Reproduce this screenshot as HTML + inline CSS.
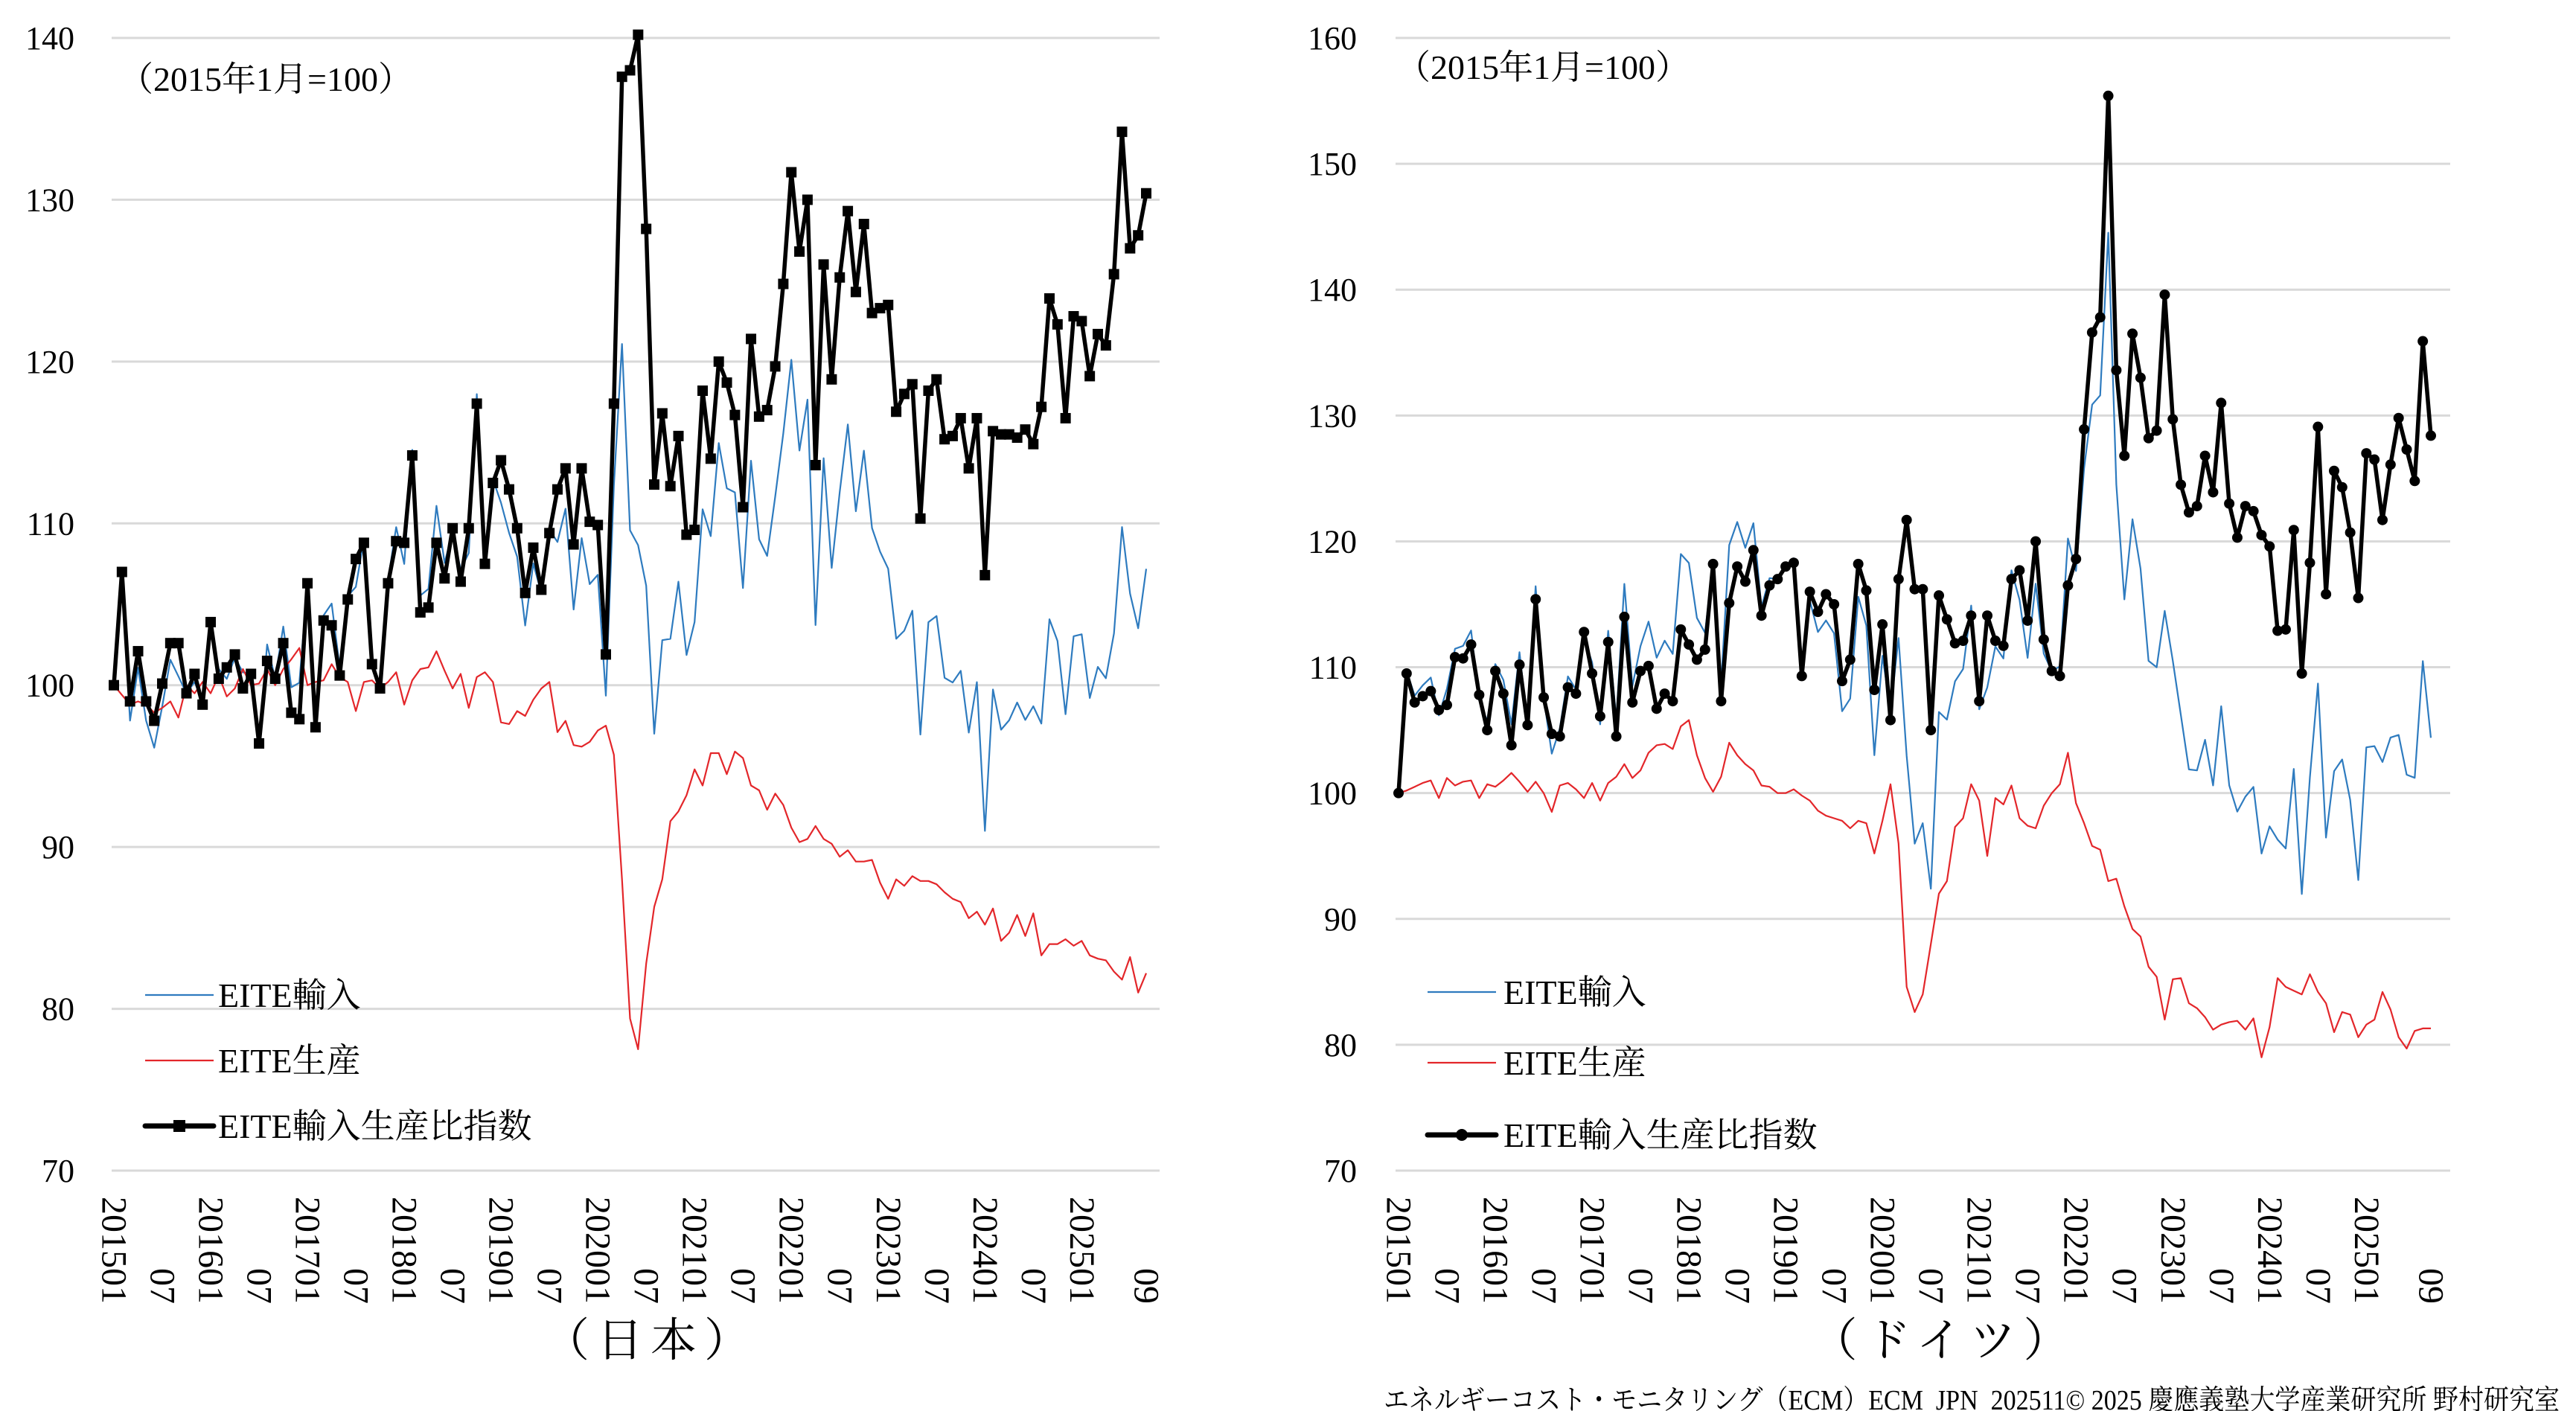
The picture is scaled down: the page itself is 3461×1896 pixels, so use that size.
<!DOCTYPE html>
<html><head><meta charset="utf-8">
<style>
html,body{margin:0;padding:0;background:#fff;}
svg{display:block;}
svg text{font-family:"Liberation Serif","Times New Roman","DejaVu Serif","Noto Serif CJK SC","Noto Sans CJK JP",serif;fill:#000;}
</style></head>
<body>
<svg id="s" width="3461" height="1896" viewBox="0 0 3461 1896" xmlns="http://www.w3.org/2000/svg">
<text x="874" y="1822" font-size="62" text-anchor="middle" letter-spacing="10">（日本）</text>
<text x="2612" y="1822" font-size="62" text-anchor="middle" letter-spacing="10">（ドイツ）</text>
<text x="1859" y="1894" font-size="38" textLength="1580" lengthAdjust="spacingAndGlyphs">エネルギーコスト・モニタリング（ECM）ECM_JPN_202511© 2025 慶應義塾大学産業研究所 野村研究室</text>
<text x="160" y="122" font-size="46">（2015年1月=100）</text>
<text x="1876" y="106" font-size="46">（2015年1月=100）</text>
</svg>
<script>
var NS="http://www.w3.org/2000/svg",S=document.getElementById('s');
function el(t,a,txt){var e=document.createElementNS(NS,t);for(var k in a)e.setAttribute(k,a[k]);if(txt!=null)e.textContent=txt;S.appendChild(e);return e;}
var jr=[100,107,99,102.1,99,97.8,100.1,102.6,102.6,99.5,100.7,98.8,103.9,100.4,101.1,101.9,99.8,100.7,96.4,101.5,100.4,102.6,98.3,97.9,106.3,97.4,104,103.7,100.6,105.3,107.8,108.8,101.3,99.8,106.3,108.9,108.8,114.2,104.5,104.8,108.8,106.6,109.7,106.4,109.7,117.4,107.5,112.5,113.9,112.1,109.7,105.7,108.5,105.9,109.4,112.1,113.4,108.7,113.4,110.1,109.9,101.9,117.4,137.6,138,140.2,128.2,112.4,116.8,112.3,115.4,109.3,109.6,118.2,114,120,118.7,116.7,111,121.4,116.6,117,119.7,124.8,131.7,126.8,130,113.6,126,118.9,125.2,129.3,124.3,128.5,123,123.3,123.5,116.9,118,118.6,110.3,118.2,118.9,115.2,115.4,116.5,113.4,116.5,106.8,115.7,115.5,115.5,115.3,115.8,114.9,117.2,123.9,122.3,116.5,122.8,122.5,119.1,121.7,121,125.4,134.2,127,127.8,130.4];
var jp=[100,99.4,98.8,99,98.8,98.3,98.6,99,98,100,99.5,100.2,99.5,100.6,99.3,99.8,101,100,100.1,101,100,101,101.6,102.3,100,100.2,100.3,101.3,100.5,100.2,98.4,100.2,100.3,99.8,100.2,100.8,98.8,100.3,101,101.1,102.1,100.9,99.8,100.7,98.6,100.5,100.8,100.2,97.7,97.6,98.4,98.1,99.1,99.8,100.2,97.1,97.8,96.3,96.2,96.5,97.2,97.5,95.7,88,79.4,77.5,82.8,86.3,88,91.6,92.2,93.2,94.8,93.8,95.8,95.8,94.5,95.9,95.5,93.8,93.5,92.3,93.3,92.6,91.2,90.3,90.5,91.3,90.5,90.2,89.4,89.8,89.1,89.1,89.2,87.8,86.8,88,87.6,88.2,87.9,87.9,87.7,87.2,86.8,86.6,85.6,86,85.2,86.2,84.2,84.7,85.8,84.5,85.9,83.3,84,84,84.3,83.9,84.2,83.3,83.1,83,82.3,81.8,83.2,81,82.2];
var gr=[100,109.5,107.2,107.7,108.1,106.6,107,110.8,110.7,111.8,107.8,105,109.7,107.9,103.8,110.2,105.4,115.4,107.6,104.7,104.5,108.4,107.9,112.8,109.5,106.1,112,104.5,114,107.2,109.7,110.1,106.7,107.9,107.3,113,111.8,110.6,111.4,118.2,107.3,115.1,118,116.8,119.3,114.1,116.5,117,118,118.3,109.3,116,114.4,115.8,115,108.9,110.6,118.2,116.1,108.2,113.4,105.8,117,121.7,116.2,116.2,105,115.7,113.8,111.9,112.1,114.1,107.3,114.1,112.1,111.7,117,117.7,113.7,120,112.2,109.7,109.3,116.5,118.6,128.9,136.6,137.8,155.4,133.6,126.8,136.5,133,128.2,128.8,139.6,129.7,124.5,122.3,122.8,126.8,123.9,131,123,120.3,122.8,122.4,120.5,119.6,112.9,113,120.9,109.5,118.3,129.1,115.8,125.6,124.3,120.7,115.5,127,126.5,121.7,126.1,129.8,127.3,124.8,135.9,128.4];
var gp=[100,100.2,100.5,100.8,101,99.6,101.2,100.6,100.9,101,99.6,100.7,100.5,101,101.6,100.9,100.1,100.9,100,98.5,100.6,100.8,100.3,99.6,100.8,99.4,100.8,101.3,102.3,101.2,101.8,103.2,103.8,103.9,103.5,105.3,105.8,103,101.2,100.1,101.3,104,103,102.3,101.8,100.6,100.5,100,100,100.3,99.8,99.4,98.6,98.2,98,97.8,97.2,97.8,97.6,95.2,97.8,100.7,96,84.6,82.6,84,88,92,93,97.3,98,100.7,99.4,95,99.6,99.1,100.6,98,97.4,97.2,99,100,100.7,103.2,99.2,97.6,95.8,95.5,93,93.2,91,89.2,88.6,86.2,85.4,82,85.2,85.3,83.3,82.9,82.2,81.2,81.6,81.8,81.9,81.2,82.1,79,81.4,85.3,84.6,84.3,84,85.6,84.2,83.3,81,82.6,82.4,80.6,81.6,82,84.2,82.8,80.6,79.7,81.1,81.3];
while(gp.length<129)gp.push(81.3);
function chart(o){
  var X=function(i){return o.x0+i*10.836;},Y=function(v){return 51+(o.vmax-v)*o.k;};
  for(var v=70;v<=o.vmax;v+=10){
    el('line',{x1:o.gx0,x2:o.gx1,y1:Y(v),y2:Y(v),stroke:'#d9d9d9','stroke-width':3});
    el('text',{x:o.lx,y:Y(v)+15,'font-size':44,'text-anchor':'end'},String(v));
  }
  for(var i=0;i<=128;i++){
    var m=i%12,lab=null;
    if(m==0)lab=String(2015+i/12)+'01';else if(m==6&&i<126)lab='07';
    if(i==128)lab='09';
    if(lab){var tx=X(i);el('text',{x:0,y:0,'font-size':48,'text-anchor':'end','dominant-baseline':'central',transform:'translate('+tx+',1752) rotate(90)'},lab);}
  }
  var imp=o.r.map(function(r,i){return r*o.p[i]/100;});
  function pl(a,c,w){el('polyline',{points:a.map(function(v,i){return X(i).toFixed(1)+','+Y(v).toFixed(1);}).join(' '),fill:'none',stroke:c,'stroke-width':w,'stroke-linejoin':'round'});}
  pl(imp,'#2e7bbf',2.2);pl(o.p,'#e3262a',2.2);pl(o.r,'#000',5.5);
  o.r.forEach(function(v,i){
    if(o.sq)el('rect',{x:X(i)-7,y:Y(v)-7,width:14,height:14,fill:'#000'});
    else el('circle',{cx:X(i),cy:Y(v),r:7,fill:'#000'});
  });
  var L=o.leg;
  el('line',{x1:L.x1,x2:L.x2,y1:L.y[0],y2:L.y[0],stroke:'#2e7bbf','stroke-width':2.2});
  el('line',{x1:L.x1,x2:L.x2,y1:L.y[1],y2:L.y[1],stroke:'#e3262a','stroke-width':2.2});
  el('line',{x1:L.x1,x2:L.x2,y1:L.y[2],y2:L.y[2],stroke:'#000','stroke-width':7,'stroke-linecap':'round'});
  var mx=(L.x1+L.x2)/2;
  if(o.sq)el('rect',{x:mx-8,y:L.y[2]-8,width:16,height:16,fill:'#000'});else el('circle',{cx:mx,cy:L.y[2],r:8,fill:'#000'});
  ['EITE輸入','EITE生産','EITE輸入生産比指数'].forEach(function(t,j){el('text',{x:L.tx,y:L.y[j]+16,'font-size':46},t);});
}
chart({x0:153,gx0:150,gx1:1558,vmax:140,k:21.743,lx:100,r:jr,p:jp,sq:true,leg:{x1:195,x2:287,tx:293,y:[1337,1425,1513]}});
chart({x0:1879,gx0:1875,gx1:3292,vmax:160,k:16.911,lx:1823,r:gr,p:gp,sq:false,leg:{x1:1918,x2:2010,tx:2020,y:[1333,1428,1525]}});
</script>
</body></html>
